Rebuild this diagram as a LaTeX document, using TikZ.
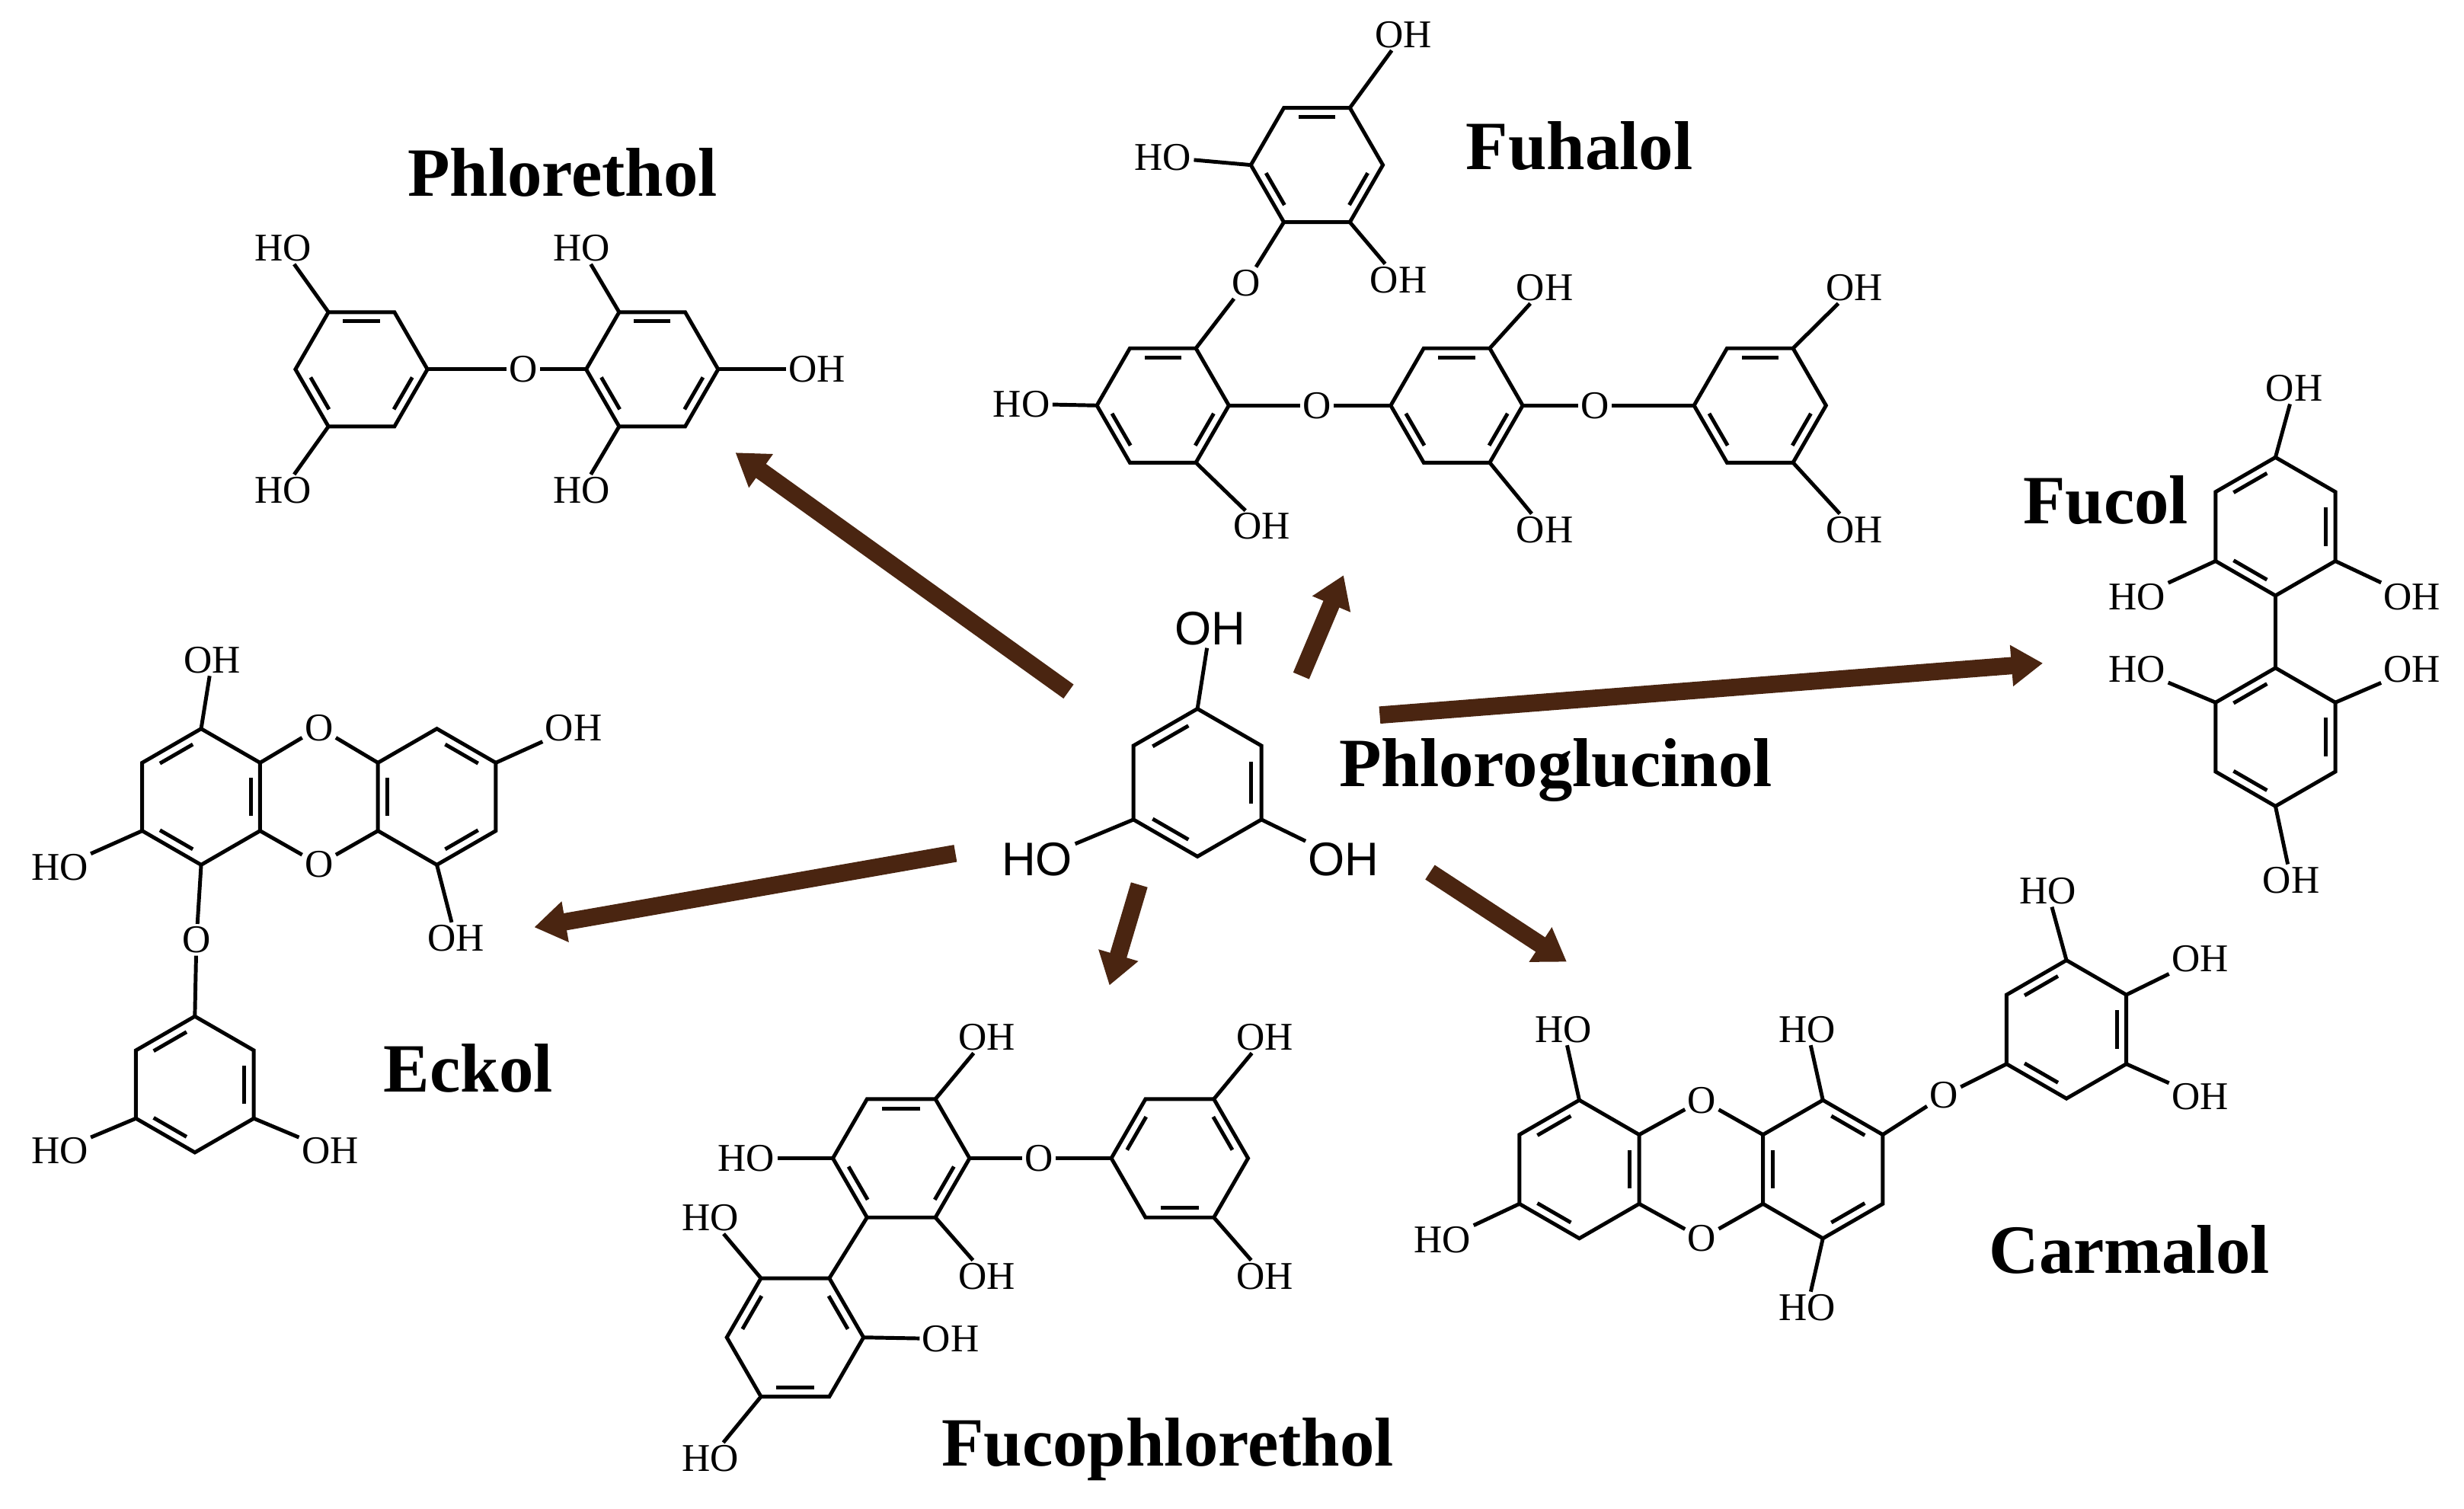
\documentclass[tikz,border=0pt]{standalone}
\usepackage{fontspec}
\setmainfont{Liberation Serif}
\newfontfamily\sansf{Liberation Sans}
\usetikzlibrary{calc,arrows.meta}
\definecolor{arrbrown}{HTML}{4A2511}
\def\R{42}
\newcommand\ring[5]{%
  \coordinate (#1) at (#2,#3);
  \foreach \k in {0,...,5}{\coordinate (#1-\k) at ($(#1)+({-(#4+60*\k)}:{\R})$);}
  \draw[bond] (#1-0)--(#1-1)--(#1-2)--(#1-3)--(#1-4)--(#1-5)--cycle;
  \foreach \k in {0,2,4}{\draw[bond] ($(#1)+({-(#4+60*(\k+#5)+9)}:{0.78*\R})$) -- ($(#1)+({-(#4+60*(\k+#5)+51)}:{0.78*\R})$);}%
}
\tikzset{
  bond/.style={line width=2.4pt,line join=miter,black},
  lbl/.style={font=\fontsize{25}{25}\selectfont,inner sep=1.5pt},
  slbl/.style={font=\sansf\fontsize{30}{30}\selectfont,inner sep=1.5pt},
  title/.style={font=\fontsize{44}{44}\selectfont\bfseries},
  arr/.style={line width=11pt,arrbrown,-{Triangle[width=25pt,length=20pt]}}
}
\begin{document}
\begin{tikzpicture}[x=1pt,y=-1pt]
\useasboundingbox (0,0) rectangle (1568,960);

% ---------- Phloroglucinol ----------
\def\R{47}
\ring{pg}{762}{498}{30}{1}
\node[slbl] (pgo1) at (770,400) {OH};
\node[slbl] (pgo2) at (660,547) {HO};
\node[slbl] (pgo3) at (855,547) {OH};
\draw[bond] (pg-1) -- (pgo1); \draw[bond] (pg-3) -- (pgo2); \draw[bond] (pg-5) -- (pgo3);
\node[title] (tpg) at (990,490) {Phloroglucinol};

% ---------- Phlorethol ----------
\def\R{42}
\ring{pa}{230}{235}{0}{1}
\ring{pb}{415}{235}{0}{1}
\node[lbl] (po) at (333,235) {O};
\draw[bond] (pa-0) -- (po) -- (pb-3);
\node[lbl] (pa1) at (180,158) {HO}; \draw[bond] (pa-2) -- (pa1);
\node[lbl] (pa2) at (180,312) {HO}; \draw[bond] (pa-4) -- (pa2);
\node[lbl] (pb1) at (370,158) {HO}; \draw[bond] (pb-2) -- (pb1);
\node[lbl] (pb2) at (370,312) {HO}; \draw[bond] (pb-4) -- (pb2);
\node[lbl] (pb3) at (520,235) {OH}; \draw[bond] (pb-0) -- (pb3);
\node[title] (tph) at (358,110) {Phlorethol};

% ---------- Fuhalol ----------
\ring{ft}{838}{105}{0}{1}
\ring{fa}{740}{258}{0}{1}
\ring{fb}{927}{258}{0}{1}
\ring{fc}{1120}{258}{0}{1}
\node[lbl] (fo1) at (793,180) {O}; \draw[bond] (fa-1) -- (fo1) -- (ft-4);
\node[lbl] (fo2) at (838,258) {O}; \draw[bond] (fa-0) -- (fo2) -- (fb-3);
\node[lbl] (fo3) at (1015,258) {O}; \draw[bond] (fb-0) -- (fo3) -- (fc-3);
\node[lbl] (ft1) at (740,100) {HO}; \draw[bond] (ft-3) -- (ft1);
\node[lbl] (ft2) at (893,22) {OH}; \draw[bond] (ft-1) -- (ft2);
\node[lbl] (ft3) at (890,178) {OH}; \draw[bond] (ft-5) -- (ft3);
\node[lbl] (fa1) at (650,257) {HO}; \draw[bond] (fa-3) -- (fa1);
\node[lbl] (fa2) at (803,335) {OH}; \draw[bond] (fa-5) -- (fa2);
\node[lbl] (fb1) at (983,183) {OH}; \draw[bond] (fb-1) -- (fb1);
\node[lbl] (fb2) at (983,337) {OH}; \draw[bond] (fb-5) -- (fb2);
\node[lbl] (fc1) at (1180,183) {OH}; \draw[bond] (fc-1) -- (fc1);
\node[lbl] (fc2) at (1180,337) {OH}; \draw[bond] (fc-5) -- (fc2);
\node[title] (tfu) at (1005,93) {Fuhalol};

% ---------- Fucol ----------
\def\R{44}
\ring{ca}{1448}{335}{30}{1}
\ring{cb}{1448}{469}{30}{1}
\draw[bond] (ca-4) -- (cb-1);
\node[lbl] (ca1) at (1460,247) {OH}; \draw[bond] (ca-1) -- (ca1);
\node[lbl] (ca2) at (1360,380) {HO}; \draw[bond] (ca-3) -- (ca2);
\node[lbl] (ca3) at (1535,380) {OH}; \draw[bond] (ca-5) -- (ca3);
\node[lbl] (cb1) at (1360,426) {HO}; \draw[bond] (cb-2) -- (cb1);
\node[lbl] (cb2) at (1535,426) {OH}; \draw[bond] (cb-0) -- (cb2);
\node[lbl] (cb3) at (1458,560) {OH}; \draw[bond] (cb-4) -- (cb3);
\node[title] (tfc) at (1340,318) {Fucol};

% ---------- Eckol ----------
\def\R{43.3}
\ring{el}{128}{507}{30}{1}
\ring{er}{278}{507}{30}{0}
\ring{eb}{124}{690}{30}{1}
\node[lbl] (eo1) at (203,463) {O}; \draw[bond] (el-0) -- (eo1) -- (er-2);
\node[lbl] (eo2) at (203,550) {O}; \draw[bond] (el-5) -- (eo2) -- (er-3);
\node[lbl] (eo3) at (125,598) {O}; \draw[bond] (el-4) -- (eo3) -- (eb-1);
\node[lbl] (el1) at (135,420) {OH}; \draw[bond] (el-1) -- (el1);
\node[lbl] (el2) at (38,552) {HO}; \draw[bond] (el-3) -- (el2);
\node[lbl] (er1) at (365,463) {OH}; \draw[bond] (er-0) -- (er1);
\node[lbl] (er2) at (290,597) {OH}; \draw[bond] (er-4) -- (er2);
\node[lbl] (eb1) at (38,732) {HO}; \draw[bond] (eb-3) -- (eb1);
\node[lbl] (eb2) at (210,732) {OH}; \draw[bond] (eb-5) -- (eb2);
\node[title] (tek) at (298,680) {Eckol};

% ---------- Fucophlorethol ----------
\def\R{43.5}
\ring{ha}{573.5}{737}{0}{1}
\ring{hb}{506}{851}{0}{0}
\ring{hc}{750.7}{737}{0}{0}
\draw[bond] (ha-4) -- (hb-1);
\node[lbl] (ho1) at (661,737) {O}; \draw[bond] (ha-0) -- (ho1) -- (hc-3);
\node[lbl] (ha1) at (628,660) {OH}; \draw[bond] (ha-1) -- (ha1);
\node[lbl] (ha2) at (475,737) {HO}; \draw[bond] (ha-3) -- (ha2);
\node[lbl] (ha3) at (628,812) {OH}; \draw[bond] (ha-5) -- (ha3);
\node[lbl] (hb1) at (452,775) {HO}; \draw[bond] (hb-2) -- (hb1);
\node[lbl] (hb2) at (605,852) {OH}; \draw[bond] (hb-0) -- (hb2);
\node[lbl] (hb3) at (452,928) {HO}; \draw[bond] (hb-4) -- (hb3);
\node[lbl] (hc1) at (805,660) {OH}; \draw[bond] (hc-1) -- (hc1);
\node[lbl] (hc2) at (805,812) {OH}; \draw[bond] (hc-5) -- (hc2);
\node[title] (tfp) at (743,922) {Fucophlorethol};

% ---------- Carmalol ----------
\def\R{44}
\ring{ml}{1005}{744}{30}{1}
\ring{mr}{1160}{744}{30}{0}
\ring{mt}{1315}{655}{30}{1}
\node[lbl] (mo1) at (1083,700) {O}; \draw[bond] (ml-0) -- (mo1) -- (mr-2);
\node[lbl] (mo2) at (1083,788) {O}; \draw[bond] (ml-5) -- (mo2) -- (mr-3);
\node[lbl] (mo3) at (1237,697) {O}; \draw[bond] (mr-0) -- (mo3) -- (mt-3);
\node[lbl] (ml1) at (995,655) {HO}; \draw[bond] (ml-1) -- (ml1);
\node[lbl] (ml2) at (918,789) {HO}; \draw[bond] (ml-3) -- (ml2);
\node[lbl] (mr1) at (1150,655) {HO}; \draw[bond] (mr-1) -- (mr1);
\node[lbl] (mr2) at (1150,832) {HO}; \draw[bond] (mr-4) -- (mr2);
\node[lbl] (mt1) at (1303,567) {HO}; \draw[bond] (mt-1) -- (mt1);
\node[lbl] (mt2) at (1400,610) {OH}; \draw[bond] (mt-0) -- (mt2);
\node[lbl] (mt3) at (1400,698) {OH}; \draw[bond] (mt-5) -- (mt3);
\node[title] (tca) at (1355,795) {Carmalol};

% ---------- Arrows ----------
\coordinate (a1s) at (680,440); \coordinate (a1e) at (468,288);
\coordinate (a2s) at (828,430); \coordinate (a2e) at (855,366);
\coordinate (a3s) at (878,455); \coordinate (a3e) at (1300,422);
\coordinate (a4s) at (608,543); \coordinate (a4e) at (340,590);
\coordinate (a5s) at (725,563); \coordinate (a5e) at (706,627);
\coordinate (a6s) at (910,555); \coordinate (a6e) at (997,612);
\foreach \i in {1,...,6}{\draw[arr] (a\i s) -- (a\i e);}
\end{tikzpicture}
\end{document}
